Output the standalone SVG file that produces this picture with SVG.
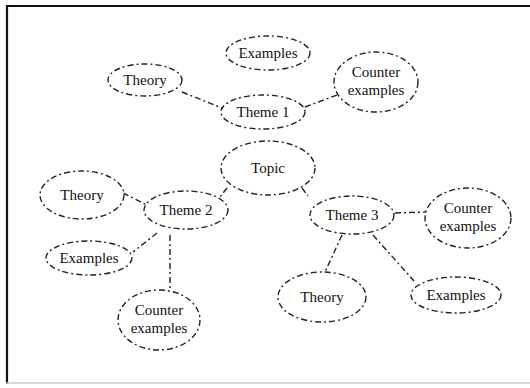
<svg xmlns="http://www.w3.org/2000/svg" width="530" height="388" viewBox="0 0 530 388">
<style>
.n ellipse{fill:#fff;stroke:#222;stroke-width:1.4;stroke-dasharray:6 3 2 3}
.n text{font-family:"Liberation Serif","Times New Roman",serif;font-size:15px;fill:#111;text-anchor:middle}
#edges line{stroke:#222;stroke-width:1.4;stroke-dasharray:6 3 2 3}
</style>
<rect width="530" height="388" fill="#fff"/>
<g id="frame">
<line x1="6" y1="6" x2="530" y2="6" stroke="#111" stroke-width="2"/>
<line x1="7" y1="5" x2="7" y2="384" stroke="#111" stroke-width="2.2"/>
<line x1="6" y1="383" x2="530" y2="383" stroke="#ccc" stroke-width="1.5"/>
</g>
<g id="edges">
<line x1="182" y1="92" x2="222" y2="108"/>
<line x1="305" y1="107" x2="337" y2="95"/>
<line x1="227" y1="188" x2="220" y2="197"/>
<line x1="302" y1="188" x2="308" y2="196"/>
<line x1="123" y1="193" x2="147" y2="205"/>
<line x1="157" y1="233" x2="133" y2="252"/>
<line x1="170" y1="235" x2="170" y2="290"/>
<line x1="395" y1="213" x2="427" y2="212"/>
<line x1="342" y1="235" x2="325" y2="272"/>
<line x1="373" y1="235" x2="414" y2="281"/>
</g>
<g id="topic" class="n"><ellipse cx="268" cy="168" rx="47" ry="27"/><text x="268" y="173">Topic</text></g>
<g id="theme1" class="n"><ellipse cx="263" cy="112" rx="42" ry="17"/><text x="263" y="117">Theme 1</text></g>
<g id="examples1" class="n"><ellipse cx="268" cy="53" rx="42" ry="17"/><text x="268" y="58">Examples</text></g>
<g id="theory1" class="n"><ellipse cx="145" cy="80" rx="37" ry="16"/><text x="145" y="85">Theory</text></g>
<g id="counter1" class="n"><ellipse cx="376" cy="82" rx="42" ry="30"/><text x="376" y="77">Counter</text><text x="376" y="95">examples</text></g>
<g id="theme2" class="n"><ellipse cx="186" cy="210" rx="42" ry="19"/><text x="186" y="215">Theme 2</text></g>
<g id="theory2" class="n"><ellipse cx="82" cy="195" rx="42" ry="24"/><text x="82" y="200">Theory</text></g>
<g id="examples2" class="n"><ellipse cx="89" cy="258" rx="43" ry="17"/><text x="89" y="263">Examples</text></g>
<g id="counter2" class="n"><ellipse cx="159" cy="320" rx="41" ry="30"/><text x="159" y="315">Counter</text><text x="159" y="333">examples</text></g>
<g id="theme3" class="n"><ellipse cx="352" cy="215" rx="42" ry="19"/><text x="352" y="220">Theme 3</text></g>
<g id="counter3" class="n"><ellipse cx="468" cy="218" rx="43" ry="30"/><text x="468" y="213">Counter</text><text x="468" y="231">examples</text></g>
<g id="theory3" class="n"><ellipse cx="322" cy="297" rx="44" ry="25"/><text x="322" y="302">Theory</text></g>
<g id="examples3" class="n"><ellipse cx="456" cy="295" rx="45" ry="18"/><text x="456" y="300">Examples</text></g>
</svg>
